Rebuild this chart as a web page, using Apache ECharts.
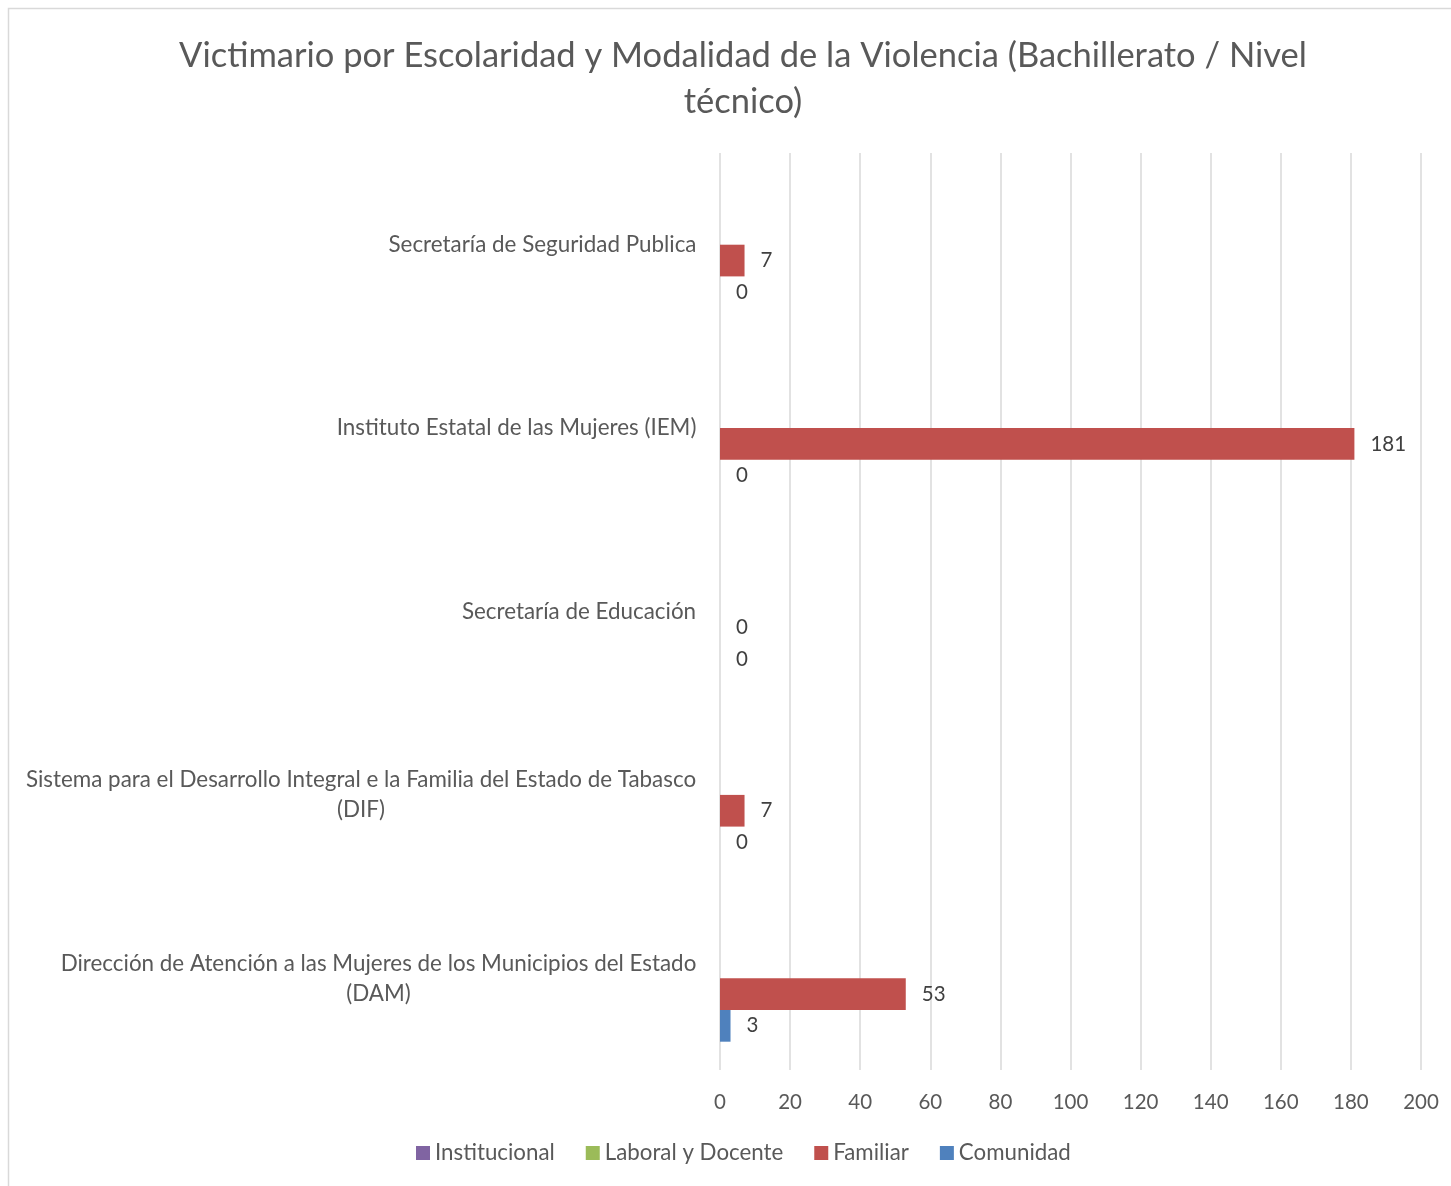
<!DOCTYPE html>
<html>
<head>
<meta charset="utf-8">
<script src="https://cdn.jsdelivr.net/npm/echarts@6/dist/echarts.min.js"></script>
<style>
  html, body { margin: 0; padding: 0; background: #fff; }
  #chart { width: 1451px; height: 1186px; }
</style>
</head>
<body>
<div id="chart"></div>
<script>
// datos
const categories = [
  'Secretaría de Seguridad Publica',
  'Instituto Estatal de las Mujeres (IEM)',
  'Secretaría de Educación',
  'Sistema para el Desarrollo Integral e la Familia del Estado de Tabasco\n(DIF)',
  'Dirección de Atención a las Mujeres de los Municipios del Estado\n(DAM)'
];
const institucional = [null, null, null, null, null];
const laboralDocente = [null, null, null, null, null];
const familiar = [7, 181, 0, 7, 53];
const comunidad = [0, 0, 0, 0, 3];
const xTicks = { min: 0, max: 200, interval: 20 };

const FONT = 'Lato';
const labelSize = 22.4;

// ancho de cada etiqueta para centrar las lineas (como Excel)
let ctx = document.createElement('canvas').getContext('2d');
ctx.font = labelSize + 'px ' + FONT;
let rich = {};
categories.forEach((c, i) => {
  let w = Math.max(...c.split('\n').map(l => ctx.measureText(l).width));
  rich['c' + i] = { width: Math.ceil(w) + 1, align: 'center', fontSize: labelSize, fontFamily: FONT, color: '#595959', lineHeight: 30 };
});

let chart = echarts.init(document.getElementById('chart'));

function barSeries(name, data, color) {
  return {
    name: name,
    type: 'bar',
    data: data,
    barWidth: 31.7,
    barGap: '0%',
    itemStyle: { color: color },
    label: {
      show: true,
      position: 'right',
      distance: 16,
      color: '#404040',
      fontSize: 20.5,
      fontFamily: FONT
    },
    animation: false
  };
}

chart.setOption({
  animation: false,
  title: {
    text: 'Victimario por Escolaridad y Modalidad de la Violencia (Bachillerato / Nivel\ntécnico)',
    left: 738,
    textAlign: 'center',
    top: 28,
    textStyle: { fontSize: 34.5, fontWeight: 'normal', color: '#595959', fontFamily: FONT, lineHeight: 46 }
  },
  graphic: [{
    type: 'rect',
    shape: { x: 8.5, y: 8.5, width: 1600, height: 1400 },
    style: { fill: 'none', stroke: '#d9d9d9', lineWidth: 1.5 },
    silent: true
  }],
  legend: {
    bottom: 17,
    left: 411,
    icon: 'rect',
    itemWidth: 14,
    itemHeight: 14,
    itemGap: 31,
    textStyle: { fontSize: 22.3, color: '#595959', fontFamily: FONT },
    data: ['Institucional', 'Laboral y Docente', 'Familiar', 'Comunidad']
  },
  grid: { left: 720, right: 30, top: 153, bottom: 116 },
  xAxis: {
    type: 'value',
    min: xTicks.min,
    max: xTicks.max,
    interval: xTicks.interval,
    axisLine: { show: false },
    axisTick: { show: false },
    splitLine: { lineStyle: { color: '#d9d9d9', width: 1.5 } },
    axisLabel: { fontSize: 20.5, color: '#595959', fontFamily: FONT, margin: 22 }
  },
  yAxis: {
    type: 'category',
    inverse: true,
    data: categories,
    axisLine: { show: false },
    axisTick: { show: false },
    axisLabel: {
      margin: 23,
      fontSize: labelSize,
      color: '#595959',
      fontFamily: FONT,
      lineHeight: 30,
      formatter: function (value, idx) {
        return value.split('\n').map(l => '{c' + idx + '|' + l + '}').join('\n');
      },
      rich: rich
    }
  },
  series: [
    barSeries('Institucional', institucional, '#8064a2'),
    barSeries('Laboral y Docente', laboralDocente, '#9bbb59'),
    barSeries('Familiar', familiar, '#c0504d'),
    barSeries('Comunidad', comunidad, '#4f81bd')
  ]
});
</script>
</body>
</html>
